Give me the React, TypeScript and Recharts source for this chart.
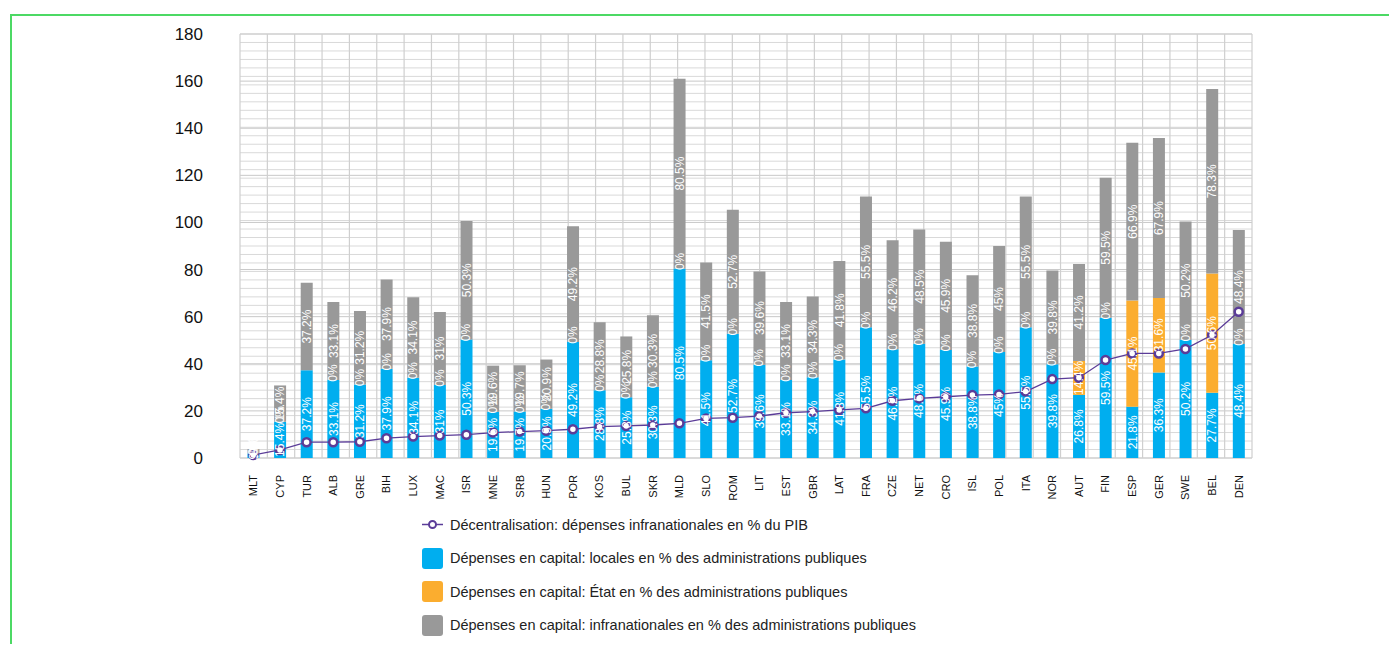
import React from 'react';
import {
  Bar,
  CartesianGrid,
  ComposedChart,
  LabelList,
  Line,
  XAxis,
  YAxis,
} from 'recharts';

const countries = [
  'MLT', 'CYP', 'TUR', 'ALB', 'GRE', 'BIH', 'LUX', 'MAC', 'ISR', 'MNE',
  'SRB', 'HUN', 'POR', 'KOS', 'BUL', 'SKR', 'MLD', 'SLO', 'ROM', 'LIT',
  'EST', 'GBR', 'LAT', 'FRA', 'CZE', 'NET', 'CRO', 'ISL', 'POL', 'ITA',
  'NOR', 'AUT', 'FIN', 'ESP', 'GER', 'SWE', 'BEL', 'DEN',
];

// capital spending, local level (% of general government)
const locales = [
  1.9, 15.4, 37.2, 33.1, 31.2, 37.9, 34.1, 31, 50.3, 19.6,
  19.7, 20.9, 49.2, 28.8, 25.8, 30.3, 80.5, 41.5, 52.7, 39.6,
  33.1, 34.3, 41.8, 55.5, 46.2, 48.5, 45.9, 38.8, 45, 55.5,
  39.8, 26.8, 59.5, 21.8, 36.3, 50.2, 27.7, 48.4,
];

// capital spending, state level
const etat = [
  0, 0, null, 0, 0, 0, 0, 0, 0, 0,
  0, 0, 0, 0, 0, 0, 0, 0, 0, 0,
  0, 0, 0, 0, 0, 0, 0, 0, 0, 0,
  0, 14.4, 0, 45.1, 31.6, 0, 50.6, 0,
];

// capital spending, subnational total
const infranationales = [
  1.9, 15.4, 37.2, 33.1, 31.2, 37.9, 34.1, 31, 50.3, 19.6,
  19.7, 20.9, 49.2, 28.8, 25.8, 30.3, 80.5, 41.5, 52.7, 39.6,
  33.1, 34.3, 41.8, 55.5, 46.2, 48.5, 45.9, 38.8, 45, 55.5,
  39.8, 41.2, 59.5, 66.9, 67.9, 50.2, 78.3, 48.4,
];

// decentralisation line
const decentralisation = [
  1.3, 3.4, 6.7, 6.7, 6.9, 8.4, 9.1, 9.5, 9.9, 10.8,
  11.2, 11.6, 12.2, 13.3, 13.6, 14, 14.7, 16.8, 17.1, 17.8,
  19.2, 19.7, 20.4, 21.1, 24.3, 25.3, 26, 26.7, 27, 28.2,
  33.5, 34.1, 41.6, 44.4, 44.4, 46.3, 52.2, 62.1,
];

const yTicks = [0, 20, 40, 60, 80, 100, 120, 140, 160, 180];
const minorSteps = 50;

const seriesNames = {
  line: 'Décentralisation: dépenses infranationales en % du PIB',
  locales: 'Dépenses en capital: locales en % des administrations publiques',
  etat: 'Dépenses en capital: État en % des administrations publiques',
  infra: 'Dépenses en capital: infranationales en % des administrations publiques',
};

const BLUE = '#00aeef';
const ORANGE = '#fbad2f';
const GREY = '#999999';
const PURPLE = '#5b3c98';

const data = countries.map((country, i) => ({
  country,
  locales: locales[i],
  etat: etat[i],
  infra: infranationales[i],
  decentralisation: decentralisation[i],
}));

const pct = (v: any) => (v == null || v === 0 ? '' : `${v}%`);

// zero-height "État" segments still get their "0%" just above the blue part
const ZeroEtatLabel = (props: any) => {
  const { x, y, width, height, value } = props;
  if (value !== 0) return null;
  const cx = x + width / 2;
  const cy = y + height - 7;
  return (
    <text
      x={cx}
      y={cy}
      transform={`rotate(-90, ${cx}, ${cy})`}
      textAnchor="middle"
      dominantBaseline="central"
      fill="#fff"
      fontSize={12}
    >
      0%
    </text>
  );
};

const CountryTick = (props: any) => {
  const { x, y, payload } = props;
  return (
    <g transform={`translate(${x},${y})`}>
      <text
        transform="rotate(-90)"
        x={-9}
        y={0}
        dy="0.36em"
        textAnchor="end"
        fontSize={11}
        fill="#111"
      >
        {payload.value}
      </text>
    </g>
  );
};

const LegendRow = ({ kind, color, label }: { kind: 'line' | 'box'; color: string; label: string }) => (
  <div style={{ display: 'flex', alignItems: 'center', height: 33.5 }}>
    {kind === 'line' ? (
      <svg width={21} height={21} style={{ marginRight: 7 }}>
        <line x1={0} y1={10.5} x2={21} y2={10.5} stroke={PURPLE} strokeWidth={1.5} />
        <circle cx={10.5} cy={10.5} r={3.5} fill="#fff" stroke={PURPLE} strokeWidth={2} />
      </svg>
    ) : (
      <div
        style={{
          width: 21,
          height: 21,
          borderRadius: 3,
          background: color,
          marginRight: 7,
        }}
      />
    )}
    <span style={{ fontSize: 14.5, color: '#222' }}>{label}</span>
  </div>
);

export default function App() {
  return (
    <div style={{ paddingTop: 6, paddingLeft: 2 }}>
      <div
        style={{
          borderTop: '2px solid #4cd964',
          borderLeft: '2px solid #4cd964',
          width: 1385,
          height: 630,
          fontFamily: '"Liberation Sans", Arial, Helvetica, sans-serif',
          boxSizing: 'border-box',
        }}
      >
        <ComposedChart
          width={1380}
          height={492}
          data={data}
          margin={{ top: 18, right: 140, bottom: 0, left: 148 }}
          barCategoryGap="28%"
        >
          <CartesianGrid
            vertical={false}
            stroke="#d9d9d9"
            horizontalCoordinatesGenerator={({ offset }: any) =>
              Array.from({ length: minorSteps + 1 }, (_, i) => offset.top + (offset.height * i) / minorSteps)
            }
          />
          <CartesianGrid vertical={false} stroke="#c8c8c8" />
          <CartesianGrid xAxisId="grid" horizontal={false} stroke="#cfcfcf" strokeWidth={1.2} />
          <XAxis
            dataKey="country"
            interval={0}
            height={50}
            axisLine={false}
            tickLine={false}
            tick={<CountryTick />}
          />
          <XAxis
            xAxisId="grid"
            type="number"
            domain={[0, countries.length]}
            tickCount={countries.length + 1}
            hide
          />
          <YAxis
            domain={[0, 180]}
            ticks={yTicks}
            width={80}
            axisLine={false}
            tickLine={false}
            tickSize={0}
            tickMargin={37}
            tick={{ fontSize: 17, fill: '#111' }}
          />
          <Bar
            dataKey="locales"
            name={seriesNames.locales}
            stackId="a"
            fill={BLUE}
            isAnimationActive={false}
          >
            <LabelList
              dataKey="locales"
              position="center"
              angle={-90}
              fill="#fff"
              fontSize={12}
              formatter={pct}
            />
          </Bar>
          <Bar
            dataKey="etat"
            name={seriesNames.etat}
            stackId="a"
            fill={ORANGE}
            isAnimationActive={false}
          >
            <LabelList
              dataKey="etat"
              position="center"
              angle={-90}
              fill="#fff"
              fontSize={12}
              formatter={pct}
            />
          </Bar>
          <Bar
            dataKey="infra"
            name={seriesNames.infra}
            stackId="a"
            fill={GREY}
            isAnimationActive={false}
          >
            <LabelList
              dataKey="infra"
              position="center"
              angle={-90}
              fill="#fff"
              fontSize={12}
              formatter={pct}
            />
            <LabelList dataKey="etat" content={<ZeroEtatLabel />} />
          </Bar>
          <Line
            dataKey="decentralisation"
            name={seriesNames.line}
            stroke={PURPLE}
            strokeWidth={1.3}
            dot={{ r: 4, fill: '#fff', stroke: PURPLE, strokeWidth: 2.5 }}
            activeDot={false}
            isAnimationActive={false}
          />
        </ComposedChart>
        <div style={{ marginLeft: 410 }}>
          <LegendRow kind="line" color={PURPLE} label={seriesNames.line} />
          <LegendRow kind="box" color={BLUE} label={seriesNames.locales} />
          <LegendRow kind="box" color={ORANGE} label={seriesNames.etat} />
          <LegendRow kind="box" color={GREY} label={seriesNames.infra} />
        </div>
      </div>
    </div>
  );
}
